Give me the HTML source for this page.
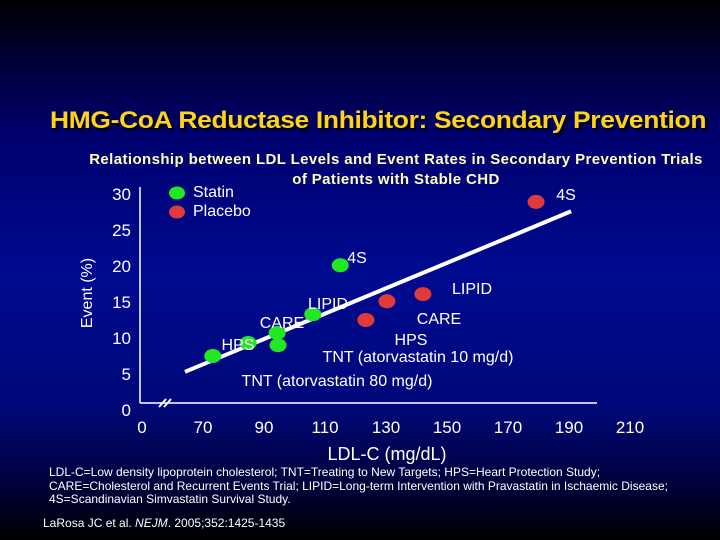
<!DOCTYPE html>
<html><head><meta charset="utf-8"><style>
html,body{margin:0;padding:0}
body{width:720px;height:540px;overflow:hidden;background:linear-gradient(to bottom,#000 0%,#00003a 12%,#00006e 25%,#000a90 50%,#00087a 75%,#000030 92%,#000 100%);font-family:"Liberation Sans",sans-serif;position:relative}
.t{position:absolute;white-space:nowrap}
</style></head><body>
<div class="t" style="left:50px;top:107px;font-size:24px;font-weight:bold;color:#ffd21e;letter-spacing:-0.3px;text-shadow:2px 2px 2px #000;transform:scaleX(1.1);transform-origin:left">HMG-CoA Reductase Inhibitor: Secondary Prevention</div>
<div class="t" style="left:0;width:792px;top:150px;text-align:center;font-size:15px;letter-spacing:0.4px;font-weight:bold;color:#ffffc0;line-height:20px">Relationship between LDL Levels and Event Rates in Secondary Prevention Trials<br>of Patients with Stable CHD</div>
<svg id="chart" width="720" height="540" style="position:absolute;left:0;top:0"></svg>
<div class="t" style="left:49px;top:466px;font-size:12px;color:#fff;line-height:13.5px">LDL-C=Low density lipoprotein cholesterol; TNT=Treating to New Targets; HPS=Heart Protection Study;<br>CARE=Cholesterol and Recurrent Events Trial; LIPID=Long-term Intervention with Pravastatin in Ischaemic Disease;<br>4S=Scandinavian Simvastatin Survival Study.</div>
<div class="t" style="left:43px;top:516px;font-size:12px;color:#fff">LaRosa JC et al. <i>NEJM</i>. 2005;352:1425-1435</div>
<script>
const xTicks=[70,90,110,130,150,170,190,210];
const yTicks=[0,5,10,15,20,25,30];
const statinX=[73.2,84.8,94.3,94.6,106,115];
const statinY=[7.5,9.3,10.7,9.0,13.3,20.1];
const placeboX=[123.4,130.3,142.1,179.2];
const placeboY=[12.5,15.1,16.1,28.9];
const trendX=[64.1,190.7];
const trendY=[5.3,27.6];
const NS="http://www.w3.org/2000/svg";
const svg=document.getElementById('chart');
function xs(v){return 203+(v-70)*3.05;}
function ys(v){return 410-v*7.2;}
function mk(tag,attrs,parent){const e=document.createElementNS(NS,tag);for(const k in attrs)e.setAttribute(k,attrs[k]);(parent||svg).appendChild(e);return e;}
function txt(x,y,s,size,anchor,extra){const e=mk('text',Object.assign({x:x,y:y,fill:'#fff','font-size':size,'text-anchor':anchor||'middle','font-family':'Liberation Sans, sans-serif'},extra||{}));e.textContent=s;return e;}
let e;
e=mk('line',{x1:140,y1:187,x2:140,y2:403,stroke:'#fff','stroke-width':1.5});


e=mk('line',{x1:140,y1:403,x2:597,y2:403,stroke:'#fff','stroke-width':1.5});


e=mk('path',{d:'M159,407 L166,399 M164,407 L171,399',stroke:'#fff','stroke-width':2,fill:'none'});


e=txt(142,433,'0',17);


xTicks.forEach(v=>{const t=txt(xs(v),433,String(v),17);

});
yTicks.forEach(v=>{const t=txt(131,ys(v)+6,String(v),17,'end');

});
e=txt(92,293,'Event (%)',16,'middle',{transform:'rotate(-90 92 293)'});


e=txt(387,460,'LDL-C (mg/dL)',18);


e=mk('line',{x1:xs(trendX[0]),y1:ys(trendY[0]),x2:xs(trendX[1]),y2:ys(trendY[1]),stroke:'#fff','stroke-width':4});


statinX.forEach((v,i)=>{const c=mk('ellipse',{cx:xs(v),cy:ys(statinY[i]),rx:8.5,ry:7,fill:'#22e822'});

});
placeboX.forEach((v,i)=>{const c=mk('ellipse',{cx:xs(v),cy:ys(placeboY[i]),rx:8.5,ry:7,fill:'#e03a3a'});

});
const labels=[[238,350,'HPS'],[282,328,'CARE'],[328,309,'LIPID'],[357,263,'4S'],[411,345,'HPS'],[418,362,'TNT (atorvastatin 10 mg/d)'],[439,324,'CARE'],[472,294,'LIPID'],[566,200,'4S'],[337,386,'TNT (atorvastatin 80 mg/d)']];
labels.forEach(l=>{const t=txt(l[0],l[1],l[2],16);

});
e=mk('ellipse',{cx:177,cy:193,rx:8,ry:6.5,fill:'#22e822'});


e=mk('ellipse',{cx:177,cy:212,rx:8,ry:6.5,fill:'#e03a3a'});


e=txt(193,197,'Statin',16,'start');


e=txt(193,216,'Placebo',16,'start');


</script>
</body></html>
